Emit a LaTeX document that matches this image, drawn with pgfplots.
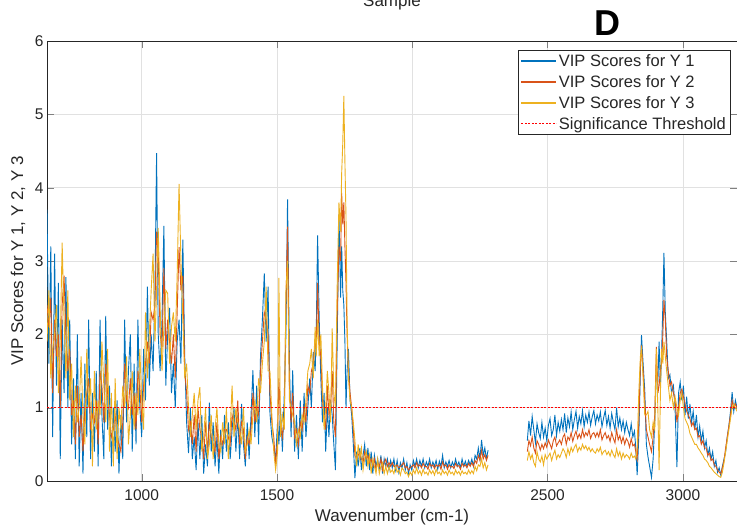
\documentclass[border=0pt]{standalone}
\usepackage{fontspec}
\setmainfont{Liberation Sans}
\usepackage{pgfplots}
\usepackage{pgfplotstable}
\pgfplotsset{compat=1.18}
\definecolor{mblue}{RGB}{0,114,189}
\definecolor{morange}{RGB}{217,83,25}
\definecolor{myellow}{RGB}{237,177,32}
\definecolor{mred}{RGB}{255,0,0}
\definecolor{axgray}{RGB}{38,38,38}
\definecolor{gridgray}{RGB}{225,225,225}

\pgfplotstableread{
x a b c
650 3.7 2.4 1.9
657 1.6 2.1 2.6
664 3.2 2.5 1.4
671 0.6 1.2 1.8
678 3.1 2.2 2.0
685 1.3 1.7 2.4
692 2.7 2.0 1.2
699 0.3 1.0 1.9
706 2.2 2.4 3.25
713 1.2 2.8 2.2
720 2.78 2.0 1.4
727 1.0 1.5 2.6
734 2.2 1.8 1.1
741 0.5 0.9 1.6
748 1.4 1.1 0.6
755 0.3 0.5 1.3
762 2.0 1.3 0.8
769 0.2 0.6 1.0
776 1.2 0.9 1.7
783 0.1 0.4 0.9
790 1.6 1.0 0.5
797 0.6 1.2 1.8
804 2.2 1.4 1.0
811 0.3 0.7 1.4
818 1.2 0.9 0.2
825 0.4 0.8 1.5
832 1.5 1.1 0.7
839 0.2 0.5 1.1
846 2.2 1.5 0.9
853 0.9 1.3 1.9
860 0.3 0.8 1.3
867 2.25 1.6 0.8
874 0.7 1.2 1.8
881 1.3 0.9 0.4
888 0.2 0.6 1.2
895 1.0 0.7 0.2
902 0.4 0.9 1.4
909 1.1 0.6 0.3
916 0.1 0.5 1.0
923 0.9 0.4 0.7
930 0.3 0.8 1.3
937 2.2 1.6 1.0
944 0.8 1.1 1.7
951 1.5 1.0 0.5
958 2.0 1.4 0.9
965 0.4 0.9 1.5
972 1.6 1.2 0.7
979 0.5 0.7 1.2
986 2.2 1.5 0.9
993 1.0 1.3 1.8
1000 0.6 0.8 1.1
1007 1.8 1.3 0.7
1014 1.1 1.6 2.3
1021 2.65 1.9 1.4
1028 1.3 1.6 2.0
1035 2.0 2.3 2.6
1042 1.5 2.2 3.1
1049 2.6 2.4 1.9
1055 4.47 3.4 2.6
1061 2.0 3.1 3.45
1068 1.5 2.0 2.4
1075 2.2 1.8 1.5
1082 3.48 2.9 2.1
1089 1.3 1.8 2.6
1096 2.0 2.2 2.56
1103 2.36 1.9 1.6
1110 1.2 1.6 2.1
1117 1.6 2.0 2.3
1124 1.0 1.4 1.9
1131 1.9 2.3 2.8
1138 2.2 3.19 4.05
1145 1.6 2.6 3.0
1152 3.29 2.8 2.2
1159 1.7 1.5 1.4
1166 0.8 1.2 1.6
1173 0.38 0.7 1.0
1180 1.0 0.8 0.6
1187 0.3 0.5 0.9
1194 0.6 0.9 1.2
1201 0.15 0.4 0.7
1208 0.8 1.0 1.1
1215 0.3 0.7 1.28
1222 0.9 0.6 0.4
1229 0.1 0.3 0.6
1236 0.5 0.8 1.0
1243 0.2 0.4 0.3
1250 1.07 0.8 0.5
1257 0.4 0.6 0.9
1264 0.8 0.5 0.3
1271 0.2 0.4 0.7
1278 0.6 0.8 1.0
1285 0.1 0.3 0.5
1292 0.7 0.6 0.4
1299 0.3 0.5 0.8
1306 0.9 0.7 0.5
1313 0.4 0.7 1.0
1320 0.8 0.6 0.3
1327 0.3 0.5 0.7
1334 0.7 0.9 1.3
1341 1.0 0.8 0.6
1348 0.4 0.7 1.0
1355 0.9 1.1 0.8
1362 0.3 0.5 0.7
1369 1.05 0.8 0.5
1376 0.5 0.7 1.0
1383 0.2 0.3 0.4
1390 0.8 0.6 0.5
1397 0.3 0.5 0.7
1404 0.9 0.7 0.5
1411 1.51 1.2 0.9
1418 0.6 0.8 1.1
1425 1.3 1.0 0.8
1432 0.5 0.9 1.4
1439 1.7 1.5 1.2
1446 2.2 1.9 1.6
1453 2.83 2.3 1.9
1460 1.9 2.2 2.65
1467 2.65 2.0 1.5
1474 0.92 1.2 1.5
1481 0.6 0.8 0.9
1488 0.47 0.6 0.4
1495 0.3 0.2 0.15
1502 0.8 0.6 0.4
1507 0.5 1.4 2.77
1513 1.0 0.8 0.6
1520 0.4 0.6 0.9
1527 1.2 0.9 0.7
1533 2.0 2.4 2.6
1539 3.84 3.47 3.0
1546 1.6 1.3 1.1
1552 0.6 0.8 1.0
1558 1.51 1.2 0.9
1565 0.4 0.6 0.8
1572 0.9 0.7 0.5
1579 0.3 0.5 0.7
1586 1.1 0.8 0.6
1593 0.4 0.7 0.9
1600 1.2 1.0 0.8
1607 0.6 0.8 1.1
1614 1.0 1.3 1.5
1621 1.4 1.2 1.6
1627 1.0 1.5 1.8
1634 1.76 1.6 1.4
1641 1.5 1.9 2.1
1645 2.0 1.8 1.7
1650 3.35 2.7 2.2
1656 2.2 1.9 1.7
1662 1.4 1.7 2.0
1668 0.8 1.1 1.3
1674 1.2 0.9 0.7
1680 0.4 0.7 1.0
1686 1.0 1.3 1.5
1692 0.6 0.9 1.2
1698 1.1 1.0 0.8
1704 0.9 1.5 2.08
1710 0.5 0.8 1.2
1716 0.15 0.6 1.0
1722 1.8 2.2 2.6
1729 3.64 3.2 3.8
1735 2.5 3.0 3.4
1739 3.2 3.93 4.2
1743 2.6 3.5 4.6
1747 2.4 3.8 5.25
1751 1.9 3.2 4.35
1755 1.0 2.7 3.6
1759 1.5 2.0 2.2
1764 1.8 1.5 1.4
1770 1.1 1.2 1.1
1776 0.9 1.0 1.0
1782 0.5 0.7 0.8
1788 0.04 0.35 0.55
1794 0.4 0.3 0.2
1800 0.2 0.35 0.5
1806 0.45 0.4 0.3
1812 0.15 0.3 0.45
1818 0.35 0.25 0.15
1824 0.5 0.4 0.3
1830 0.2 0.3 0.4
1836 0.45 0.35 0.2
1842 0.15 0.25 0.35
1848 0.4 0.3 0.1
1854 0.1 0.2 0.3
1860 0.35 0.3 0.2
1866 0.2 0.15 0.1
1872 0.3 0.25 0.3
1878 0.15 0.2 0.1
1884 0.35 0.3 0.2
1890 0.1 0.15 0.25
1896 0.3 0.25 0.1
1902 0.2 0.3 0.2
1908 0.3 0.2 0.1
1914 0.15 0.25 0.2
1920 0.28 0.2 0.12
1926 0.18 0.25 0.15
1932 0.3 0.2 0.1
1938 0.15 0.2 0.2
1944 0.28 0.22 0.12
1950 0.12 0.18 0.15
1956 0.25 0.2 0.08
1962 0.18 0.22 0.18
1968 0.3 0.25 0.15
1974 0.15 0.18 0.1
1980 0.25 0.2 0.12
1986 0.1 0.15 0.06
1992 0.22 0.18 0.12
1998 0.15 0.2 0.08
2004 0.28 0.22 0.15
2010 0.2 0.18 0.1
2016 0.3 0.25 0.18
2022 0.18 0.2 0.1
2028 0.28 0.22 0.14
2034 0.2 0.18 0.08
2040 0.3 0.24 0.16
2046 0.18 0.2 0.1
2052 0.26 0.2 0.12
2058 0.2 0.16 0.08
2064 0.3 0.24 0.15
2070 0.18 0.2 0.1
2076 0.26 0.22 0.14
2082 0.2 0.17 0.08
2088 0.28 0.22 0.16
2094 0.16 0.2 0.1
2100 0.27 0.22 0.12
2106 0.2 0.16 0.08
2112 0.35 0.26 0.15
2118 0.18 0.2 0.1
2124 0.26 0.22 0.13
2130 0.2 0.16 0.08
2136 0.28 0.22 0.15
2142 0.18 0.19 0.1
2148 0.26 0.2 0.12
2154 0.2 0.17 0.08
2160 0.3 0.24 0.15
2166 0.2 0.2 0.1
2172 0.26 0.21 0.13
2178 0.18 0.16 0.08
2184 0.3 0.24 0.14
2190 0.2 0.2 0.1
2196 0.27 0.22 0.12
2202 0.2 0.18 0.09
2208 0.28 0.24 0.15
2214 0.22 0.2 0.1
2220 0.3 0.25 0.14
2226 0.2 0.2 0.1
2232 0.35 0.28 0.2
2238 0.3 0.24 0.14
2244 0.45 0.35 0.22
2250 0.3 0.28 0.2
2256 0.56 0.42 0.3
2262 0.35 0.3 0.18
2268 0.45 0.36 0.25
2274 0.3 0.28 0.15
2280 0.42 0.35 0.22
2350 nan nan nan
2425 0.55 0.4 0.28
2431 0.82 0.55 0.4
2437 0.62 0.48 0.3
2443 0.88 0.6 0.36
2449 0.7 0.45 0.25
2455 0.52 0.38 0.2
2461 0.78 0.55 0.4
2467 0.66 0.5 0.3
2473 0.58 0.42 0.26
2479 0.8 0.5 0.34
2485 0.6 0.44 0.22
2491 0.72 0.52 0.36
2497 0.55 0.46 0.3
2503 0.76 0.56 0.34
2509 0.85 0.5 0.38
2515 0.62 0.44 0.28
2521 0.7 0.55 0.36
2527 0.9 0.6 0.42
2533 0.62 0.48 0.3
2539 0.8 0.52 0.36
2545 0.68 0.56 0.32
2551 0.84 0.5 0.38
2557 0.7 0.6 0.44
2563 0.92 0.64 0.4
2569 0.66 0.5 0.32
2575 0.86 0.6 0.44
2581 0.74 0.56 0.36
2587 0.94 0.66 0.46
2593 0.7 0.54 0.4
2599 0.84 0.62 0.46
2605 0.95 0.68 0.5
2611 0.72 0.58 0.4
2617 0.88 0.64 0.46
2623 0.78 0.58 0.42
2629 0.96 0.7 0.5
2635 0.74 0.6 0.44
2641 0.9 0.66 0.48
2647 0.8 0.62 0.42
2653 0.94 0.7 0.46
2659 0.76 0.58 0.4
2665 0.88 0.64 0.44
2671 0.96 0.66 0.4
2677 0.78 0.6 0.38
2683 0.9 0.66 0.44
2689 0.82 0.6 0.4
2695 0.94 0.7 0.46
2701 0.74 0.56 0.36
2707 0.86 0.62 0.4
2713 0.96 0.66 0.42
2719 0.76 0.58 0.36
2725 0.88 0.62 0.4
2731 0.72 0.54 0.34
2737 0.92 0.66 0.42
2743 0.8 0.58 0.36
2749 0.7 0.52 0.32
2755 1.0 0.7 0.44
2761 0.74 0.56 0.34
2767 0.86 0.62 0.4
2773 0.7 0.52 0.3
2779 0.82 0.6 0.38
2785 0.66 0.5 0.32
2791 0.8 0.58 0.36
2797 0.7 0.54 0.34
2803 0.62 0.46 0.3
2809 0.78 0.58 0.38
2815 0.6 0.48 0.32
2821 0.68 0.5 0.34
2826 0.45 0.4 0.3
2831 0.08 0.3 0.45
2837 0.6 0.8 1.2
2843 1.5 1.6 1.7
2847 1.99 1.85 1.8
2853 1.6 1.5 1.4
2859 1.24 1.1 0.9
2865 0.5 0.7 0.9
2871 0.33 0.6 0.95
2877 0.2 0.5 0.7
2884 0.05 0.4 0.6
2890 0.3 0.6 0.8
2896 0.8 0.9 0.7
2902 1.5 1.83 1.8
2908 1.4 1.2 0.9
2912 1.9 1.3 0.15
2917 1.3 1.5 1.2
2921 1.7 1.6 1.8
2926 2.4 2.0 1.6
2930 3.11 2.47 1.9
2935 2.3 2.2 1.7
2940 1.92 1.7 1.5
2946 1.4 1.5 1.3
2952 1.45 1.3 1.1
2958 1.2 1.35 1.2
2965 1.3 1.2 1.0
2971 1.0 1.1 1.15
2978 0.19 0.8 1.0
2984 1.2 1.0 0.9
2990 1.35 1.2 1.1
2996 1.1 1.25 1.2
3002 1.3 1.15 1.0
3008 0.9 1.05 0.85
3014 1.15 0.95 0.8
3020 0.85 0.9 0.75
3026 1.05 0.85 0.65
3032 0.8 0.75 0.6
3038 0.95 0.8 0.55
3044 0.7 0.7 0.5
3050 0.9 0.72 0.5
3056 0.6 0.6 0.45
3062 0.75 0.62 0.42
3068 0.55 0.5 0.38
3074 0.68 0.55 0.35
3080 0.45 0.45 0.3
3086 0.55 0.45 0.28
3092 0.35 0.35 0.25
3098 0.45 0.38 0.2
3104 0.3 0.28 0.18
3110 0.4 0.3 0.15
3116 0.2 0.22 0.12
3122 0.28 0.2 0.1
3128 0.12 0.15 0.08
3134 0.18 0.12 0.06
3140 0.08 0.1 0.05
3146 0.2 0.18 0.12
3152 0.3 0.28 0.25
3158 0.4 0.45 0.4
3164 0.6 0.6 0.55
3170 0.75 0.75 0.7
3176 0.95 0.9 0.85
3182 1.21 1.1 1.0
3188 0.95 1.0 1.05
3194 1.1 1.05 1.0
3200 1.0 1.0 0.95
}\vipdata

\begin{document}
\begin{tikzpicture}
\useasboundingbox (-47bp,-45bp) rectangle (690bp,481bp);
\begin{axis}[
  at={(0,0)}, anchor=south west,
  scale only axis, width=690bp, height=440bp,
  xmin=650, xmax=3200, ymin=0, ymax=6,
  xtick={1000,1500,2000,2500,3000}, ytick={0,1,2,3,4,5,6},
  grid=major, major grid style={gridgray, line width=0.6bp},
  axis line style={axgray, line width=0.8bp},
  major tick length=7bp,
  tick align=inside, xtick pos=both, ytick pos=both,
  ticklabel style={font=\fontsize{15.5bp}{18bp}\selectfont, text=axgray},
  xticklabel style={yshift=-5bp},
  /pgf/number format/assume math mode=true,
  /pgf/number format/1000 sep={},
  xlabel={Wavenumber (cm-1)}, ylabel={VIP Scores for Y 1, Y 2, Y 3},
  label style={font=\fontsize{17bp}{20bp}\selectfont, text=axgray},
  xlabel style={at={(axis description cs:0.5,-0.0818)}, anchor=center},
  ylabel style={at={(axis description cs:-0.042,0.5)}, anchor=center},
  unbounded coords=jump,
  legend cell align=left,
  legend style={at={(rel axis cs:0.99,0.9795)}, anchor=north east,
    draw=axgray, line width=0.6bp, fill=white,
    font=\fontsize{16.5bp}{19bp}\selectfont, text=axgray,
    inner sep=2bp, row sep=3.5bp},
  legend image code/.code={\draw[#1, line width=1.3bp] (0bp,0bp) -- (35bp,0bp);},
]
\addplot[mblue, line width=0.9bp] table[x=x,y=a]{\vipdata};
\addlegendentry{VIP Scores for Y 1}
\addplot[morange, line width=0.9bp] table[x=x,y=b]{\vipdata};
\addlegendentry{VIP Scores for Y 2}
\addplot[myellow, line width=0.9bp] table[x=x,y=c]{\vipdata};
\addlegendentry{VIP Scores for Y 3}
\addplot[mred, line width=1.1bp, dash pattern=on 2bp off 1.5bp] coordinates {(650,1) (3200,1)};
\addlegendentry{Significance Threshold}
\end{axis}
\node[font=\fontsize{17bp}{20bp}\selectfont, anchor=base, text=axgray] at (345bp,474bp) {Sample};
\node[font=\bfseries\fontsize{36bp}{40bp}\selectfont] at (560bp,458bp) {D};
\end{tikzpicture}
\end{document}
